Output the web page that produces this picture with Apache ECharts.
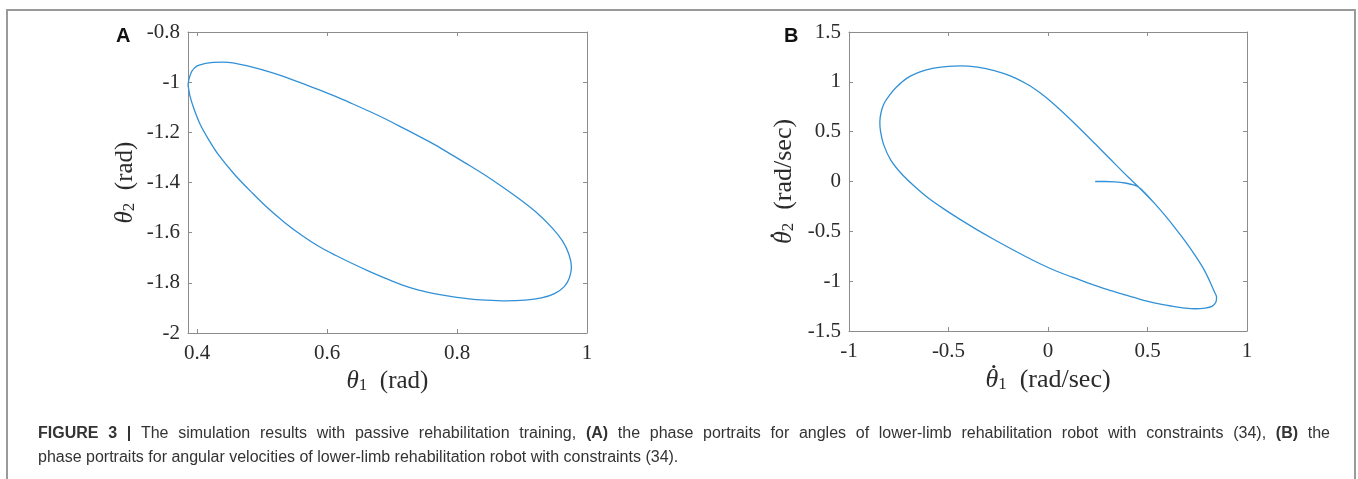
<!DOCTYPE html>
<html>
<head>
<meta charset="utf-8">
<script src="https://cdn.jsdelivr.net/npm/echarts@6/dist/echarts.min.js"></script>
<style>
  html, body { margin: 0; padding: 0; background: #fff; }
  #main { width: 1358px; height: 479px; }
</style>
</head>
<body>
<div id="main"></div>
<script>
// panel A : joint angles theta1 / theta2 (rad)
var angle1 = [0.386, 0.388, 0.392, 0.400, 0.413, 0.425, 0.440, 0.455, 0.485, 0.510, 0.536, 0.562, 0.587, 0.613,
  0.638, 0.664, 0.690, 0.715, 0.741, 0.767, 0.792, 0.818, 0.844, 0.869, 0.895, 0.921, 0.946, 0.962, 0.972, 0.976,
  0.973, 0.965, 0.950, 0.930, 0.905, 0.874, 0.844, 0.818, 0.792, 0.767, 0.741, 0.715, 0.690, 0.664, 0.638, 0.613,
  0.587, 0.562, 0.536, 0.510, 0.485, 0.459, 0.433, 0.418, 0.405, 0.395, 0.389, 0.386]
var angle2 = [-1.010, -0.983, -0.956, -0.935, -0.925, -0.921, -0.920, -0.923, -0.940, -0.958, -0.980, -1.005, -1.030, -1.057,
  -1.085, -1.115, -1.147, -1.180, -1.215, -1.251, -1.290, -1.330, -1.372, -1.416, -1.464, -1.517, -1.580, -1.632, -1.685, -1.736,
  -1.780, -1.815, -1.843, -1.860, -1.869, -1.872, -1.869, -1.864, -1.855, -1.844, -1.829, -1.808, -1.782, -1.753, -1.722, -1.690,
  -1.654, -1.612, -1.562, -1.505, -1.442, -1.372, -1.290, -1.230, -1.170, -1.105, -1.055, -1.010]

// panel B : angular velocities (rad/sec)
var velocity1 = [0.237, 0.287, 0.337, 0.388, 0.430, 0.460, 0.485, 0.539, 0.589, 0.639, 0.690, 0.740, 0.782, 0.815,
  0.837, 0.847, 0.844, 0.824, 0.790, 0.740, 0.690, 0.622, 0.539, 0.455, 0.371, 0.287, 0.203, 0.119, 0.035, -0.040,
  -0.120, -0.200, -0.280, -0.360, -0.440, -0.520, -0.600, -0.670, -0.735, -0.790, -0.826, -0.842, -0.845, -0.838,
  -0.822, -0.795, -0.760, -0.710, -0.650, -0.580, -0.500, -0.440, -0.354, -0.270, -0.186, -0.102, -0.035, 0.007,
  0.069, 0.153, 0.237, 0.320, 0.404, 0.450, 0.485, 0.539]
var velocity2 = [0, 0, -0.003, -0.015, -0.035, -0.063, -0.110, -0.227, -0.343, -0.467, -0.600, -0.743, -0.877, -1.010,
  -1.110, -1.160, -1.210, -1.253, -1.270, -1.277, -1.270, -1.250, -1.220, -1.177, -1.127, -1.077, -1.020, -0.958, -0.893, -0.825,
  -0.745, -0.660, -0.572, -0.480, -0.383, -0.280, -0.168, -0.050, 0.075, 0.215, 0.370, 0.510, 0.600, 0.700,
  0.790, 0.870, 0.950, 1.035, 1.095, 1.135, 1.155, 1.160, 1.147, 1.113, 1.057, 0.973, 0.883, 0.815,
  0.705, 0.545, 0.378, 0.210, 0.042, -0.045, -0.115, -0.227]

var ticksAngle1 = [0.4, 0.6, 0.8, 1]

// caption, first line is justified in the original
var captionLine1 = ['*FIGURE', '*3', '*|', 'The', 'simulation', 'results', 'with', 'passive', 'rehabilitation', 'training,',
  '*(A)', 'the', 'phase', 'portraits', 'for', 'angles', 'of', 'lower-limb', 'rehabilitation', 'robot', 'with',
  'constraints', '(34),', '*(B)', 'the']
var captionLine2 = 'phase portraits for angular velocities of lower-limb rehabilitation robot with constraints (34).'

var serif = 'Liberation Serif, DejaVu Serif, serif'
var sans = 'Liberation Sans, Arial, sans-serif'
var axisGray = '#8c8c8c'
var textColor = '#2b2b2b'
var lineColor = '#3291d6'

var gridA = { left: 188, top: 32, width: 399, height: 301 }
var gridB = { left: 849, top: 32, width: 398, height: 299 }
var nameSizeA = 25
var nameSizeB = 26

function pairs(xs, ys) {
  return xs.map(function (x, i) { return [x, ys[i]] })
}

var measure = document.createElement('canvas').getContext('2d')
function textWidth(str, font) {
  measure.font = font
  return measure.measureText(str).width
}

function nameStyle(size) {
  return {
    rich: {
      i: { fontFamily: serif, fontStyle: 'italic', fontSize: size, color: textColor },
      s: { fontFamily: serif, fontSize: Math.round(size * 0.66), color: textColor, verticalAlign: 'bottom', lineHeight: 16 },
      n: { fontFamily: serif, fontSize: size, color: textColor }
    }
  }
}

// one side of the boxed (matlab like) frame
function axis(opt) {
  return {
    type: 'value',
    gridIndex: opt.grid,
    position: opt.position,
    min: opt.min,
    max: opt.max,
    interval: opt.interval,
    name: opt.name || '',
    nameLocation: 'middle',
    nameGap: opt.nameGap || 0,
    nameRotate: opt.nameRotate,
    nameTextStyle: nameStyle(opt.nameSize || 24),
    axisLine: { show: true, onZero: false, lineStyle: { color: axisGray, width: 1 } },
    axisTick: { show: true, inside: true, length: 4, customValues: opt.ticks, lineStyle: { color: axisGray } },
    axisLabel: {
      show: !!opt.labels,
      customValues: opt.ticks,
      margin: opt.margin || 8,
      fontFamily: serif,
      fontSize: 21,
      color: textColor,
      formatter: function (v) { return String(+v.toFixed(2)) }
    },
    splitLine: { show: false }
  }
}

function captionText() {
  var first = captionLine1.map(function (w) {
    return w.charAt(0) === '*' ? '{b|' + w.slice(1) + '}' : '{r|' + w + '}'
  }).join('{sp| }')
  return first + '\n{r|' + captionLine2 + '}'
}

// dots over theta for the velocity labels of panel B
var gapBx = 36
var gapBy = 52
var thetaW = textWidth('θ', 'italic ' + nameSizeB + 'px Liberation Serif')
var nameW = thetaW + textWidth('1', Math.round(nameSizeB * 0.66) + 'px Liberation Serif') +
  textWidth('  (rad/sec)', nameSizeB + 'px Liberation Serif')
var dotX = { cx: gridB.left + gridB.width / 2 - nameW / 2 + thetaW * 0.66, cy: gridB.top + gridB.height + gapBx - 0.5 }
var dotY = { cx: gridB.left - gapBy - nameSizeB + 1, cy: gridB.top + gridB.height / 2 + nameW / 2 - thetaW * 0.66 }

var chart = echarts.init(document.getElementById('main'))

chart.setOption({
  animation: false,
  backgroundColor: '#fff',
  grid: [gridA, gridB],
  xAxis: [
    axis({ grid: 0, position: 'bottom', min: 0.386, max: 1, ticks: ticksAngle1, labels: true, margin: 10,
      name: '{i|θ}{s|1}{n|  (rad)}', nameGap: 36, nameSize: nameSizeA }),
    axis({ grid: 0, position: 'top', min: 0.386, max: 1, ticks: ticksAngle1 }),
    axis({ grid: 1, position: 'bottom', min: -1, max: 1, interval: 0.5, labels: true, margin: 10,
      name: '{i|θ}{s|1}{n|  (rad/sec)}', nameGap: gapBx, nameSize: nameSizeB }),
    axis({ grid: 1, position: 'top', min: -1, max: 1, interval: 0.5 })
  ],
  yAxis: [
    axis({ grid: 0, position: 'left', min: -2, max: -0.8, interval: 0.2, labels: true,
      name: '{i|θ}{s|2}{n|  (rad)}', nameGap: 50, nameRotate: 90, nameSize: nameSizeA }),
    axis({ grid: 0, position: 'right', min: -2, max: -0.8, interval: 0.2 }),
    axis({ grid: 1, position: 'left', min: -1.5, max: 1.5, interval: 0.5, labels: true,
      name: '{i|θ}{s|2}{n|  (rad/sec)}', nameGap: gapBy, nameRotate: 90, nameSize: nameSizeB }),
    axis({ grid: 1, position: 'right', min: -1.5, max: 1.5, interval: 0.5 })
  ],
  series: [
    {
      type: 'line',
      xAxisIndex: 0,
      yAxisIndex: 0,
      data: pairs(angle1, angle2),
      showSymbol: false,
      smooth: 0.3,
      lineStyle: { color: lineColor, width: 1.3 }
    },
    {
      type: 'line',
      xAxisIndex: 2,
      yAxisIndex: 2,
      data: pairs(velocity1, velocity2),
      showSymbol: false,
      smooth: 0.3,
      lineStyle: { color: lineColor, width: 1.3 }
    }
  ],
  graphic: [
    // figure frame
    { type: 'polyline', shape: { points: [[7, 479], [7, 10], [1355, 10], [1355, 479]] },
      style: { stroke: '#9a9a9a', lineWidth: 2, fill: null }, silent: true },
    { type: 'circle', shape: { cx: dotX.cx, cy: dotX.cy, r: 1.6 }, style: { fill: textColor }, silent: true },
    { type: 'circle', shape: { cx: dotY.cx, cy: dotY.cy, r: 1.6 }, style: { fill: textColor }, silent: true },
    { type: 'text', left: 116, top: 26, style: { text: 'A', font: 'bold 20px ' + sans, fill: '#111' } },
    { type: 'text', left: 784, top: 26, style: { text: 'B', font: 'bold 20px ' + sans, fill: '#111' } },
    {
      type: 'text',
      left: 38,
      top: 426,
      style: {
        text: captionText(),
        font: '16px ' + sans,
        fill: '#333',
        rich: {
          b: { fontFamily: sans, fontSize: 16, fontWeight: 'bold', color: '#222', lineHeight: 24 },
          r: { fontFamily: sans, fontSize: 16, color: '#333', lineHeight: 24 },
          sp: { fontFamily: sans, fontSize: 16, width: 9.7, lineHeight: 24 }
        }
      }
    }
  ]
})
</script>
</body>
</html>
